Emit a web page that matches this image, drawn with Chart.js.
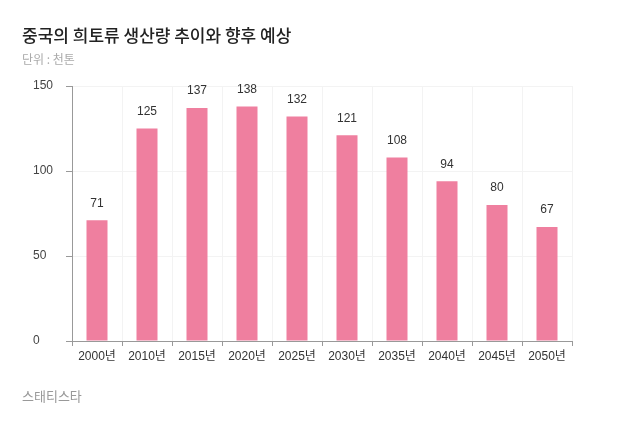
<!DOCTYPE html>
<html>
<head>
<meta charset="utf-8">
<script src="https://cdn.jsdelivr.net/npm/chart.js@4"></script>
<style>
	body { margin: 0; background: #fff; font-family: "Liberation Sans", "Noto Sans CJK KR", sans-serif; }
	#wrap { position: relative; width: 640px; height: 427px; }
	#chart-box { position: absolute; left: 0; top: 0; width: 640px; height: 427px; }
	.title { position: absolute; left: 22px; top: 22px; font-size: 17px; font-weight: 500; color: #222; font-family: "Noto Sans CJK KR", sans-serif; }
	.unit { position: absolute; left: 22px; top: 50px; font-size: 12px; color: #aaa; font-family: "Noto Sans CJK KR", sans-serif; }
	.source { position: absolute; left: 22px; top: 386px; font-size: 13px; color: #999; font-family: "Noto Sans CJK KR", sans-serif; }
</style>
</head>
<body>
<div id="wrap">
	<div id="chart-box"><canvas id="rare-earth-chart"></canvas></div>
	<div class="title">중국의 희토류 생산량 추이와 향후 예상</div>
	<div class="unit">단위 : 천톤</div>
	<div class="source">스태티스타</div>
</div>
<script>
// 연도별 생산량 (천톤)
const years = ["2000년", "2010년", "2015년", "2020년", "2025년", "2030년", "2035년", "2040년", "2045년", "2050년"];
const production = [71, 125, 137, 138, 132, 121, 108, 94, 80, 67];
const yTicks = [0, 50, 100, 150];

const ctx = document.getElementById("rare-earth-chart");

// 막대 위에 값 표시
const valueLabels = {
	id: "valueLabels",
	afterDatasetsDraw(chart) {
		const c = chart.ctx;
		const meta = chart.getDatasetMeta(0);
		c.save();
		c.font = '12px "Liberation Sans", sans-serif';
		c.fillStyle = "#333";
		c.textAlign = "center";
		c.textBaseline = "middle";
		meta.data.forEach((bar, i) => {
			c.fillText(production[i], bar.x, bar.y - 17);
		});
		c.restore();
	}
};

new Chart(ctx, {
	type: "bar",
	data: {
		labels: years,
		datasets: [{
			data: production,
			backgroundColor: "#ef7f9f",
			barPercentage: 0.42,
			categoryPercentage: 1
		}]
	},
	options: {
		responsive: true,
		maintainAspectRatio: false,
		animation: false,
		layout: { padding: { left: 33, top: 86, right: 68, bottom: 56 } },
		plugins: {
			legend: { display: false },
			tooltip: { enabled: false }
		},
		scales: {
			x: {
				grid: { color: "#f3f3f3", tickColor: "#999", tickLength: 5, offset: true },
				border: { color: "#999" },
				ticks: { color: "#333", font: { size: 12, family: '"Liberation Sans", "Noto Sans CJK KR", sans-serif' }, padding: 3, maxRotation: 0 },
				afterFit(scale) { scale.height = 30; }
			},
			y: {
				min: 0,
				max: 150,
				afterBuildTicks(scale) { scale.ticks = yTicks.map(v => ({ value: v })); },
				grid: { color: "#f3f3f3", tickColor: "#999", tickLength: 6 },
				border: { color: "#999" },
				ticks: { color: "#444", font: { size: 12, family: '"Liberation Sans", sans-serif' }, crossAlign: "far" },
				afterFit(scale) { scale.width = 39; }
			}
		}
	},
	plugins: [valueLabels]
});
</script>
</body>
</html>
